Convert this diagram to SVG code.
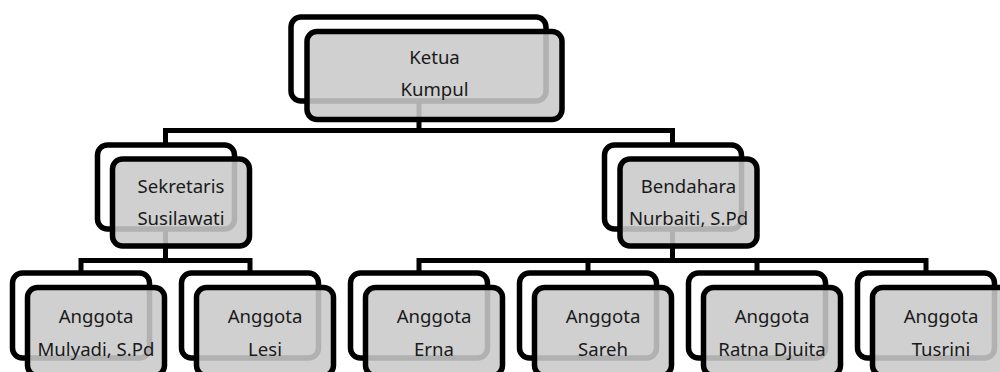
<svg xmlns="http://www.w3.org/2000/svg" width="1000" height="372" viewBox="0 0 1000 372">
<style>
.back{fill:#ffffff;stroke:#000000;stroke-width:5.5}
.front{fill:#cacaca;fill-opacity:0.88;stroke:#000000;stroke-width:5.5}
.conn{fill:none;stroke:#000000;stroke-width:5;stroke-linejoin:miter}
text{font-family:"Noto Sans","Liberation Sans",sans-serif;font-size:18.6px;fill:#1a1a1a;text-anchor:middle}
</style>
<rect width="1000" height="372" fill="#ffffff"/>
<g id="connectors">
<path class="conn" d="M419,100 V130.5"/>
<path class="conn" d="M165.5,147 V130.5 H672.5 V147"/>
<path class="conn" d="M165.5,228 V260.5"/>
<path class="conn" d="M81,274 V260.5 H250 V274"/>
<path class="conn" d="M672.5,228 V260.5"/>
<path class="conn" d="M419,274 V260.5 H926 V274"/>
<path class="conn" d="M588,260.5 V274"/>
<path class="conn" d="M757,260.5 V274"/>
</g>
<g id="ketua">
<rect class="back" x="291" y="17" width="255" height="84" rx="10"/>
<rect class="front" x="307" y="31.5" width="255" height="88" rx="10"/>
<text x="434.5" y="64">Ketua</text>
<text x="434.5" y="96">Kumpul</text>
</g>
<g id="sekretaris">
<rect class="back" x="97.5" y="145" width="137" height="84" rx="10"/>
<rect class="front" x="112.5" y="159" width="137" height="87" rx="10"/>
<text x="181" y="193">Sekretaris</text>
<text x="181" y="225">Susilawati</text>
</g>
<g id="bendahara">
<rect class="back" x="604.5" y="145" width="137" height="84" rx="10"/>
<rect class="front" x="620" y="159" width="137" height="87" rx="10"/>
<text x="688.5" y="193">Bendahara</text>
<text x="688.5" y="225">Nurbaiti, S.Pd</text>
</g>
<g id="anggota-mulyadi">
<rect class="back" x="12.5" y="273" width="137" height="85" rx="10"/>
<rect class="front" x="27.5" y="287.5" width="137" height="88" rx="10"/>
<text x="96" y="323">Anggota</text>
<text x="96" y="355.5">Mulyadi, S.Pd</text>
</g>
<g id="anggota-lesi">
<rect class="back" x="181.5" y="273" width="137" height="85" rx="10"/>
<rect class="front" x="196.5" y="287.5" width="137" height="88" rx="10"/>
<text x="265" y="323">Anggota</text>
<text x="265" y="355.5">Lesi</text>
</g>
<g id="anggota-erna">
<rect class="back" x="350.5" y="273" width="137" height="85" rx="10"/>
<rect class="front" x="365.5" y="287.5" width="137" height="88" rx="10"/>
<text x="434" y="323">Anggota</text>
<text x="434" y="355.5">Erna</text>
</g>
<g id="anggota-sareh">
<rect class="back" x="519.5" y="273" width="137" height="85" rx="10"/>
<rect class="front" x="534.5" y="287.5" width="137" height="88" rx="10"/>
<text x="603" y="323">Anggota</text>
<text x="603" y="355.5">Sareh</text>
</g>
<g id="anggota-ratna">
<rect class="back" x="688.5" y="273" width="137" height="85" rx="10"/>
<rect class="front" x="703.5" y="287.5" width="137" height="88" rx="10"/>
<text x="772" y="323">Anggota</text>
<text x="772" y="355.5">Ratna Djuita</text>
</g>
<g id="anggota-tusrini">
<rect class="back" x="857.5" y="273" width="137" height="85" rx="10"/>
<rect class="front" x="872.5" y="287.5" width="137" height="88" rx="10"/>
<text x="941" y="323">Anggota</text>
<text x="941" y="355.5">Tusrini</text>
</g>
</svg>
